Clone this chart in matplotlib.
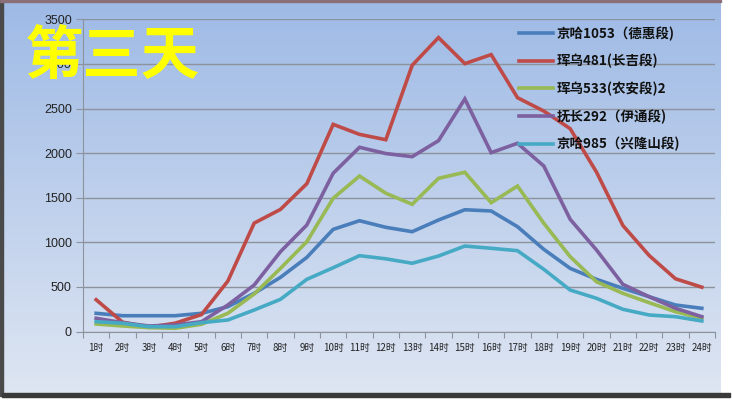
import matplotlib
matplotlib.use("Agg")
import matplotlib.pyplot as plt
import numpy as np
from matplotlib.patches import Rectangle

plt.rcParams['font.family'] = ['Noto Sans CJK SC', 'DejaVu Sans']

hours = [f"{i}时" for i in range(1, 25)]
series_names = ["京哈1053（德惠段)", "珲乌481(长吉段)", "珲乌533(农安段)2", "抚长292（伊通段)", "京哈985（兴隆山段)"]
jingha1053 = [204, 177, 177, 177, 204, 278, 428, 607, 831, 1145, 1242, 1168, 1119, 1250, 1365, 1351, 1175, 921, 708, 585, 484, 390, 297, 260]
huiwu481 = [356, 105, 48, 93, 190, 565, 1215, 1369, 1657, 2322, 2210, 2150, 2984, 3295, 3003, 3104, 2621, 2471, 2274, 1787, 1189, 852, 591, 497]
huiwu533 = [84, 62, 43, 36, 81, 204, 420, 708, 1007, 1493, 1743, 1550, 1426, 1717, 1785, 1444, 1631, 1213, 839, 558, 428, 323, 222, 148]
fuchang292 = [148, 99, 62, 73, 110, 297, 521, 895, 1194, 1774, 2065, 1995, 1960, 2139, 2607, 2005, 2110, 1855, 1258, 914, 529, 390, 260, 166]
jingha985 = [110, 92, 54, 54, 99, 129, 241, 361, 585, 715, 850, 815, 765, 846, 958, 933, 906, 697, 465, 372, 249, 185, 166, 118]
colors = ["#4a7ebb", "#be4b48", "#98b954", "#7d60a0", "#46aac5"]
y_ticks = [0, 500, 1000, 1500, 2000, 2500, 3000, 3500]

fig = plt.figure(figsize=(7.32, 4.0), dpi=100)
fig.patch.set_facecolor("white")

# background panel with gradient
bg = fig.add_axes([0, 0, 1, 1], zorder=-10)
bg.set_xlim(0, 732)
bg.set_ylim(400, 0)
bg.axis("off")
top = np.array([0.62, 0.73, 0.90])
bot = np.array([0.87, 0.90, 0.95])
t = np.linspace(0, 1, 256)[:, None]
grad = (top[None, :] * (1 - t) + bot[None, :] * t)[:, None, :]
grad = np.repeat(grad, 2, axis=1)
bg.imshow(grad, extent=[3, 721, 393, 2], aspect="auto", interpolation="bilinear")
bg.add_patch(Rectangle((0, 0), 3, 396, color="#4a4a4a"))
bg.add_patch(Rectangle((0, 0), 721, 2, color="#8a6f78"))
bg.add_patch(Rectangle((2, 393), 728, 4, color="#3a3a3a"))

ax = fig.add_axes([83 / 732, 1 - 331.5 / 400, (715 - 83) / 732, (331.5 - 19.3) / 400])
ax.set_facecolor("none")
x = np.arange(1, 25)
all_series = [jingha1053, huiwu481, huiwu533, fuchang292, jingha985]
for vals, c, name in zip(all_series, colors, series_names):
    ax.plot(x, vals, color=c, lw=2.6, label=name, solid_joinstyle="miter")

ax.set_xlim(0.5, 24.5)
ax.set_ylim(0, 3500)
ax.set_yticks(y_ticks)
ax.set_yticklabels([str(v) for v in y_ticks], fontsize=9, color="#222222", family=["Liberation Sans", "DejaVu Sans"])
ax.yaxis.grid(True, color="#8c939c", lw=1)
ax.set_axisbelow(True)
ax.set_xticks(np.arange(0.5, 25, 1))
ax.set_xticklabels([])
ax.set_xticks(x, minor=True)
ax.set_xticklabels(hours, minor=True, fontsize=7, color="#222222")
ax.tick_params(axis="x", which="major", length=4, color="#8c939c", direction="out")
ax.tick_params(axis="x", which="minor", length=0, pad=8)
ax.tick_params(axis="y", length=5, color="#8c939c", pad=3)
for s in ["top", "right"]:
    ax.spines[s].set_visible(False)
for s in ["left", "bottom"]:
    ax.spines[s].set_color("#8c939c")

leg = ax.legend(loc="upper left", bbox_to_anchor=(519 / 732, 1 - 26.5 / 400), bbox_transform=fig.transFigure,
                frameon=False, prop={"size": 9.7, "weight": "bold"}, handlelength=2.5, handletextpad=0.3,
                labelspacing=0.97, borderaxespad=0, borderpad=0)
for txt in leg.get_texts():
    txt.set_color("#111111")

fig.text(112 / 732, 1 - 57 / 400, "第三天", fontsize=42, color="#ffff00", fontweight="bold",
         ha="center", va="center")

fig.savefig("out.png", dpi=100)
